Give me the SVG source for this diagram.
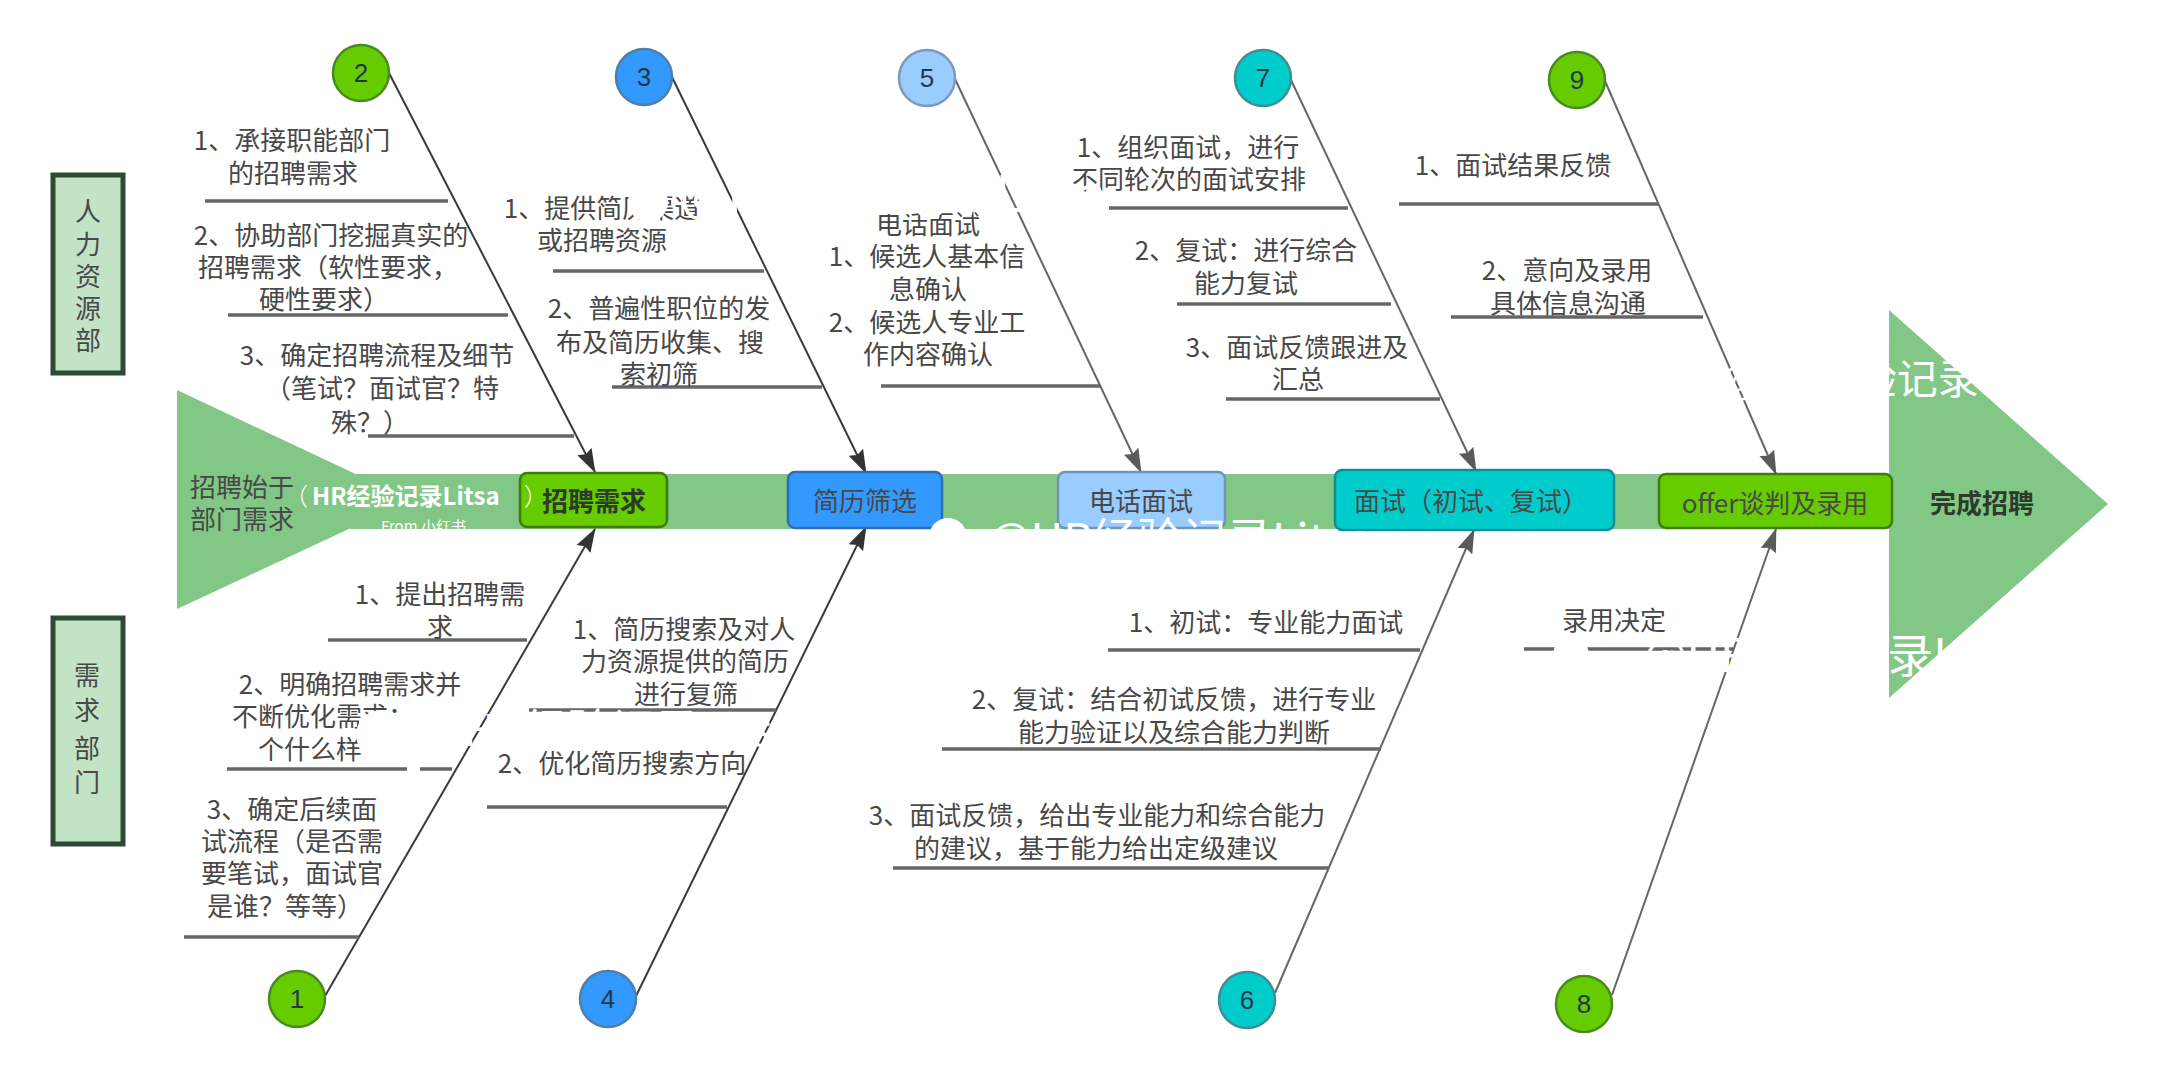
<svg xmlns="http://www.w3.org/2000/svg" width="2158" height="1080" viewBox="0 0 2158 1080">
<style>
text{font-family:"Noto Sans CJK SC","Liberation Sans",sans-serif;fill:#484848;font-size:26px;text-anchor:middle}
.num{font-family:"Liberation Sans",sans-serif;fill:#22384a}
.start{text-anchor:start}
.b{font-weight:700;fill:#2e3a2c}
.box{stroke-width:2.5}
.circ{stroke-width:2.5}
.side{fill:#c3e3c5;stroke:#2d4a35;stroke-width:5}
.rib{stroke:#666;stroke-width:3.5;fill:none}
.c1{stroke:#3a3a3a;stroke-width:2;fill:none;marker-end:url(#a1)}
.c2{stroke:#666;stroke-width:2;fill:none;marker-end:url(#a2)}
.wm{fill:#fff;font-family:"Noto Sans CJK SC",sans-serif;text-anchor:start}
.hg{fill:#82c785}
</style>
<defs>
<marker id="a1" markerUnits="userSpaceOnUse" markerWidth="24" markerHeight="18" viewBox="0 0 24 18" refX="23" refY="9" orient="auto"><path d="M0 1 L24 9 L0 17 L3 9Z" fill="#333"/></marker>
<marker id="a2" markerUnits="userSpaceOnUse" markerWidth="24" markerHeight="18" viewBox="0 0 24 18" refX="23" refY="9" orient="auto"><path d="M0 1 L24 9 L0 17 L3 9Z" fill="#5a5a5a"/></marker>
</defs>
<rect width="2158" height="1080" fill="#fff"/>
<g id="spine">
<polygon class="hg" points="177,390 411,500 177,609"/>
<rect class="hg" x="350" y="474" width="1545" height="55"/>
<polygon class="hg" points="1889,310 2108,504 1889,698"/>
</g>
<g id="connectors">
<line class="c1" x1="389" y1="73" x2="595" y2="472"/>
<line class="c1" x1="671" y1="75" x2="866" y2="473"/>
<line class="c2" x1="955" y1="79" x2="1141" y2="472"/>
<line class="c2" x1="1291" y1="80" x2="1476" y2="471"/>
<line class="c2" x1="1605" y1="81" x2="1776" y2="474"/>
<line class="c1" x1="325" y1="996" x2="595" y2="529"/>
<line class="c1" x1="636" y1="996" x2="866" y2="527"/>
<line class="c2" x1="1275" y1="993" x2="1474" y2="530"/>
<line class="c2" x1="1612" y1="995" x2="1776" y2="529"/>
<line class="rib" x1="205" y1="201" x2="448" y2="201"/>
<line class="rib" x1="228" y1="315" x2="508" y2="315"/>
<line class="rib" x1="368" y1="436" x2="574" y2="436"/>
<line class="rib" x1="553" y1="271" x2="764" y2="271"/>
<line class="rib" x1="612" y1="387" x2="822" y2="387"/>
<line class="rib" x1="881" y1="386" x2="1100" y2="386"/>
<line class="rib" x1="1109" y1="208" x2="1348" y2="208"/>
<line class="rib" x1="1177" y1="304" x2="1391" y2="304"/>
<line class="rib" x1="1226" y1="399" x2="1440" y2="399"/>
<line class="rib" x1="1399" y1="204" x2="1658" y2="204"/>
<line class="rib" x1="1451" y1="317" x2="1703" y2="317"/>
<line class="rib" x1="328" y1="640" x2="527" y2="640"/>
<line class="rib" x1="227" y1="769" x2="407" y2="769"/>
<line class="rib" x1="420" y1="769" x2="452" y2="769"/>
<line class="rib" x1="184" y1="937" x2="359" y2="937"/>
<line class="rib" x1="529" y1="710" x2="776" y2="710"/>
<line class="rib" x1="487" y1="807" x2="727" y2="807"/>
<line class="rib" x1="1108" y1="650" x2="1420" y2="650"/>
<line class="rib" x1="942" y1="749" x2="1381" y2="749"/>
<line class="rib" x1="893" y1="868" x2="1329" y2="868"/>
<line class="rib" x1="1524" y1="649" x2="1733" y2="649"/>
</g>
<g id="start-label"><text class="start" x="190" y="497">招聘始于</text><text class="start" x="190" y="529">部门需求</text></g>
<g id="end-label"><text class="b" x="1982" y="513">完成招聘</text></g>
<g id="box-recruit"><rect class="box" x="520" y="473" width="147" height="54" rx="7" fill="#66cc00" stroke="#3f7d0a"/><text class="b" x="594" y="511">招聘需求</text></g>
<g id="box-screen"><rect class="box" x="788" y="472" width="154" height="56" rx="7" fill="#3399ff" stroke="#2a6fb5"/><text x="865" y="511">简历筛选</text></g>
<g id="box-phone"><rect class="box" x="1058" y="472" width="167" height="56" rx="7" fill="#99ccff" stroke="#6f94b8"/><text x="1141" y="511">电话面试</text></g>
<g id="box-interview"><rect class="box" x="1335" y="470" width="279" height="60" rx="7" fill="#00cccc" stroke="#0f8f96"/><text x="1471" y="511">面试（初试、复试）</text></g>
<g id="box-offer"><rect class="box" x="1659" y="474" width="233" height="54" rx="7" fill="#66cc00" stroke="#3f7d0a"/><text x="1775" y="513">offer谈判及录用</text></g>
<g id="side-hr"><rect class="side" x="53" y="175" width="70" height="198"/><text x="88" y="221">人</text><text x="88" y="254">力</text><text x="88" y="286">资</text><text x="88" y="318">源</text><text x="88" y="350">部</text></g>
<g id="side-dept"><rect class="side" x="53" y="618" width="70" height="226"/><text x="87" y="685">需</text><text x="87" y="720">求</text><text x="87" y="758">部</text><text x="87" y="792">门</text></g>
<g id="n1"><circle class="circ" cx="297" cy="999" r="28" fill="#66cc00" stroke="#4a8a20"/><text class="num" x="297" y="1008">1</text></g>
<g id="n2"><circle class="circ" cx="361" cy="73" r="28" fill="#66cc00" stroke="#4a8a20"/><text class="num" x="361" y="82">2</text></g>
<g id="n3"><circle class="circ" cx="644" cy="77" r="28" fill="#3399ff" stroke="#4f7fa8"/><text class="num" x="644" y="86">3</text></g>
<g id="n4"><circle class="circ" cx="608" cy="999" r="28" fill="#3399ff" stroke="#4f7fa8"/><text class="num" x="608" y="1008">4</text></g>
<g id="n5"><circle class="circ" cx="927" cy="78" r="28" fill="#99ccff" stroke="#7a9cbc"/><text class="num" x="927" y="87">5</text></g>
<g id="n6"><circle class="circ" cx="1247" cy="1000" r="28" fill="#00cccc" stroke="#3d8f94"/><text class="num" x="1247" y="1009">6</text></g>
<g id="n7"><circle class="circ" cx="1263" cy="78" r="28" fill="#00cccc" stroke="#3d8f94"/><text class="num" x="1263" y="87">7</text></g>
<g id="n8"><circle class="circ" cx="1584" cy="1004" r="28" fill="#66cc00" stroke="#4a8a20"/><text class="num" x="1584" y="1013">8</text></g>
<g id="n9"><circle class="circ" cx="1577" cy="80" r="28" fill="#66cc00" stroke="#4a8a20"/><text class="num" x="1577" y="89">9</text></g>
<g id="notes-2">
<text x="292" y="150">1、承接职能部门</text><text x="293" y="183">的招聘需求</text>
<text x="331" y="245">2、协助部门挖掘真实的</text><text x="328" y="277">招聘需求（软性要求，</text><text x="324" y="309">硬性要求）</text>
<text x="377" y="365">3、确定招聘流程及细节</text><text x="382" y="398">（笔试？面试官？特</text><text x="370" y="432">殊？）</text>
</g>
<g id="notes-3">
<text x="602" y="218">1、提供简历渠道</text><text x="602" y="250">或招聘资源</text>
<text x="659" y="318">2、普遍性职位的发</text><text x="660" y="352">布及简历收集、搜</text><text x="659" y="384">索初筛</text>
</g>
<g id="notes-5">
<text x="928" y="234">电话面试</text><text x="927" y="266">1、候选人基本信</text><text x="928" y="299">息确认</text><text x="927" y="332">2、候选人专业工</text><text x="928" y="364">作内容确认</text>
</g>
<g id="notes-7">
<text x="1188" y="157">1、组织面试，进行</text><text x="1189" y="189">不同轮次的面试安排</text>
<text x="1246" y="260">2、复试：进行综合</text><text x="1246" y="293">能力复试</text>
<text x="1297" y="357">3、面试反馈跟进及</text><text x="1298" y="389">汇总</text>
</g>
<g id="notes-9">
<text x="1513" y="175">1、面试结果反馈</text>
<text x="1567" y="280">2、意向及录用</text><text x="1568" y="313">具体信息沟通</text>
</g>
<g id="notes-1">
<text x="440" y="604">1、提出招聘需</text><text x="440" y="637">求</text>
<text x="350" y="694">2、明确招聘需求并</text><text class="start" x="232" y="726">不断优化需求：</text><text class="start" x="258" y="759">个什么样</text>
<text x="292" y="819">3、确定后续面</text><text x="292" y="851">试流程（是否需</text><text x="292" y="883">要笔试，面试官</text><text x="285" y="916">是谁？等等）</text>
</g>
<g id="notes-4">
<text x="684" y="639">1、简历搜索及对人</text><text x="685" y="671">力资源提供的简历</text><text x="686" y="704">进行复筛</text>
<text x="622" y="773">2、优化简历搜索方向</text>
</g>
<g id="notes-6">
<text x="1266" y="632">1、初试：专业能力面试</text>
<text x="1174" y="709">2、复试：结合初试反馈，进行专业</text><text x="1174" y="742">能力验证以及综合能力判断</text>
<text x="1097" y="825">3、面试反馈，给出专业能力和综合能力</text><text x="1096" y="858">的建议，基于能力给出定级建议</text>
</g>
<g id="notes-8"><text x="1614" y="630">录用决定</text></g>
<g id="watermarks">
<text class="wm" x="284" y="505" style="font-size:24px;font-weight:300">（</text>
<text class="wm" x="312" y="505" style="font-size:24px;font-weight:700">HR经验记录Litsa</text>
<text class="wm" x="524" y="505" style="font-size:24px;font-weight:300">）</text>
<text class="wm" x="381" y="532" style="font-size:15px">From 小红书</text>
<circle cx="948" cy="537" r="19" fill="#fff"/>
<text class="wm" x="988" y="556" style="font-size:45px">@HR经验记录Litsa</text>
<circle cx="648" cy="202" r="20" fill="#fff"/>
<text class="wm" x="680" y="212" style="font-size:50px">@HR经验记录Litsa</text>
<text class="wm" x="1720" y="394" style="font-size:41px">@HR经验记录Litsa</text>
<circle cx="381" cy="735" r="25" fill="#fff"/>
<text class="wm" x="422" y="746" style="font-size:44px">@HR经验记录Litsa</text>
<circle cx="1571" cy="655" r="18" fill="#fff"/>
<text class="wm" x="1643" y="672" style="font-size:46px">@HR经验记录Litsa</text>
</g>
</svg>
